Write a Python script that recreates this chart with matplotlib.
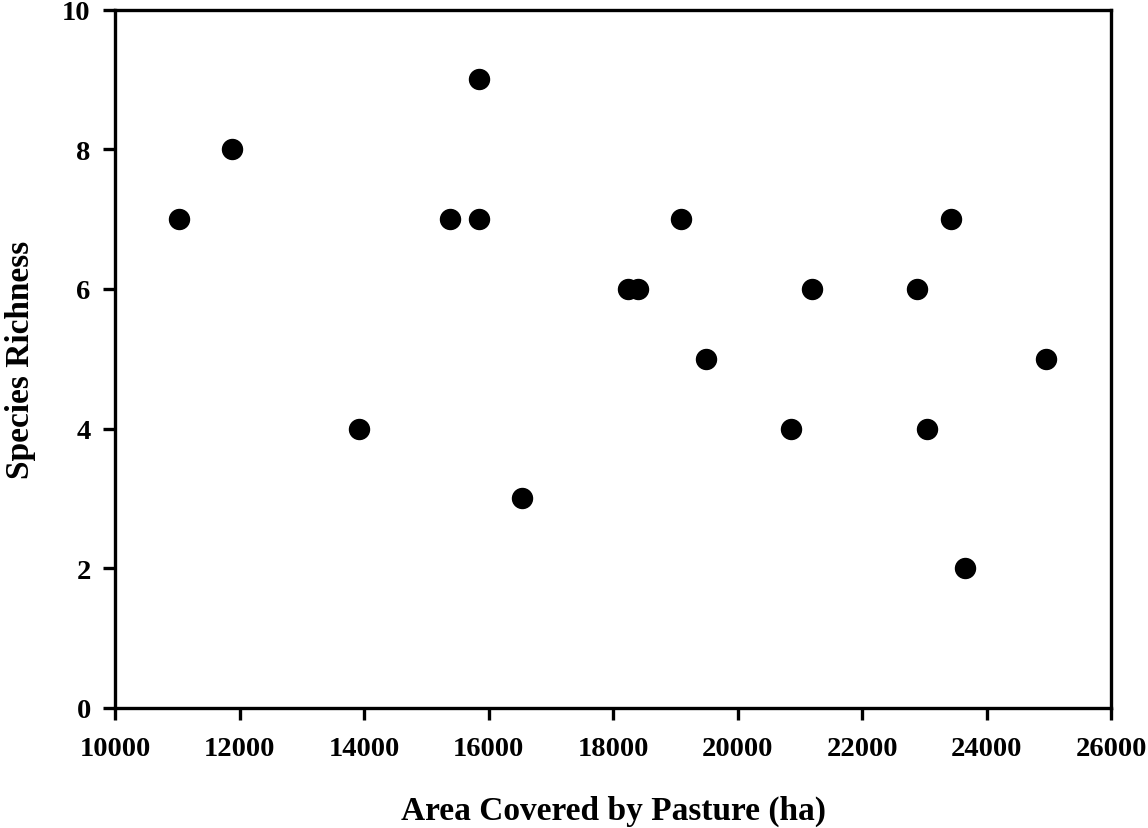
import matplotlib
matplotlib.use("Agg")
import matplotlib.pyplot as plt

pasture_area = [11026, 11881, 13918, 15384, 15843, 15854, 16532, 18244, 18409,
                19089, 19490, 20863, 21199, 22884, 23044, 23429, 23660, 24953]
species_richness = [7, 8, 4, 7, 9, 7, 3, 6, 6,
                    7, 5, 4, 6, 6, 4, 7, 2, 5]

x_ticks = [10000, 12000, 14000, 16000, 18000, 20000, 22000, 24000, 26000]
y_ticks = [0, 2, 4, 6, 8, 10]

plt.rcParams['font.family'] = ['Liberation Serif', 'DejaVu Serif']
plt.rcParams['font.weight'] = 'bold'

fig = plt.figure(figsize=(11.48, 8.29), dpi=100)
ax = fig.add_axes([0.1002, 0.1448, 0.8676, 0.8425])

ax.plot(pasture_area, species_richness, linestyle='none', marker='o',
        markersize=14.4, color='black', clip_on=False)

ax.set_xlim(10000, 26000)
ax.set_ylim(0, 10)
ax.set_xticks(x_ticks)
ax.set_yticks(y_ticks)
ax.set_xticklabels([str(v) for v in x_ticks], fontsize=20.5, fontweight='bold')
ax.set_yticklabels([str(v) for v in y_ticks], fontsize=20.5, fontweight='bold')

for s in ax.spines.values():
    s.set_linewidth(2.4)
ax.tick_params(axis='both', direction='out', length=8.5, width=2.4, color='black')
ax.tick_params(axis='x', pad=12)
ax.tick_params(axis='y', pad=9)

ax.set_xlabel('Area Covered by Pasture (ha)', fontsize=24, fontweight='bold', labelpad=24)
ax.set_ylabel('Species Richness', fontsize=24, fontweight='bold', labelpad=19)

fig.savefig('out.png', dpi=100)
